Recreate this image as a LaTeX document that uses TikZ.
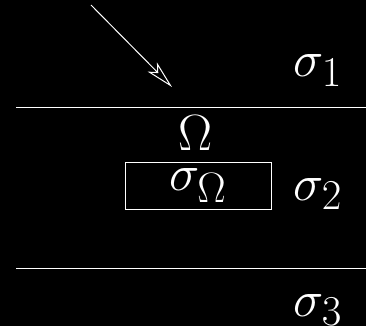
\documentclass[tikz,border=0pt]{standalone}
\usepackage{amsmath}
\usetikzlibrary{arrows.meta}

\newcommand{\lbl}[1]{\scalebox{2.05}{\Huge$#1$}}

\begin{document}
\begin{tikzpicture}[x=1pt, y=-1pt, line width=1pt,
    every node/.style={text=white, inner sep=0pt},
    layer/.style={draw=white},
    region/.style={anchor=base west}]
    \fill[black] (0,0) rectangle (366,326);
    \useasboundingbox (0,0) rectangle (366,326);

    % interfaces between the layers
    \coordinate (top left) at (16,107.5);
    \coordinate (top right) at (366,107.5);
    \coordinate (bot left) at (16,268);
    \coordinate (bot right) at (366,268);
    \draw[layer] (top left) -- (top right);
    \draw[layer] (bot left) -- (bot right);

    % incoming ray
    \coordinate (src) at (91,5);
    \coordinate (hit) at (172,87);
    \draw[layer, -{Stealth[open, fill=black, length=28pt, width=13pt, inset=7pt]}] (src) -- (hit);

    \node[region] (s1) at (293,77) {\lbl{\sigma_1}};
    \node[region] (s2) at (293,200) {\lbl{\sigma_2}};
    \node[region] (s3) at (293,316) {\lbl{\sigma_3}};

    \node[draw=white, minimum width=146pt, minimum height=47pt] (box) at (198,185.5) {\lbl{\sigma_\Omega}\hspace{15pt}};
    \node[anchor=base] (omega) at (196,150) {\lbl{\Omega}};
\end{tikzpicture}
\end{document}
